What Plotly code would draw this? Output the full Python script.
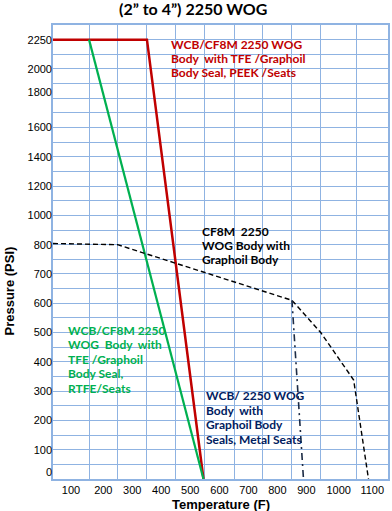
import numpy as np
import plotly.graph_objects as go

# ---------------- data ----------------
TITLE = "(2” to 4”) 2250 WOG"
X_TICK_LABELS = [100, 200, 300, 400, 500, 600, 700, 800, 900, 1000, 1100]
Y_TICK_LABELS = [0, 100, 200, 300, 400, 500, 600, 700, 800, 1000, 1200, 1400, 1600, 1800, 2000, 2250]

# PEEK seats (red)
peek_temp = [50, 350, 545]
peek_psi = [2250, 2250, 0]
# RTFE seats (green)
rtfe_temp = [150, 545]
rtfe_psi = [2250, 0]
# CF8M graphoil body (black dashed)
cf8m_temp = [50, 250, 850, 950, 1042, 1088]
cf8m_psi = [808, 800, 610, 500, 338, 0]
# WCB metal seats (dash-dot)
wcb_temp = [850, 890]
wcb_psi = [610, 0]

# ------------- custom (non-linear) axis scales of the original chart -------------
X_SCALE_T = [50, 150, 250, 350, 450, 550, 650, 750, 850, 950, 1050, 1150]
X_SCALE_U = [0, 36.3, 65, 94.6, 123.3, 153, 182.3, 211.3, 240.6, 269.6, 305.6, 337.3]
Y_SCALE_P = [0, 800, 1600, 1800, 2000, 2250]
Y_SCALE_U = [0, 16, 24, 26.44, 28, 30]


def xs(t):
    return list(np.interp(t, X_SCALE_T, X_SCALE_U))


def ys(p):
    return list(np.interp(p, Y_SCALE_P, Y_SCALE_U))


GRID = "#8fb3e2"
W, H = 392, 511
ML, MR, MT, MB = 53, 2, 25, 32
Y_MAX = 31

fig = go.Figure()

series = [
    (peek_temp, peek_psi, "#c00000", 2.5, "solid"),
    (rtfe_temp, rtfe_psi, "#00b050", 2.2, "solid"),
    (cf8m_temp, cf8m_psi, "#000000", 1.4, "5px,3px"),
    (wcb_temp, wcb_psi, "#1c2b45", 1.6, "7px,4px,2px,4px"),
]
for t, p, c, w, d in series:
    fig.add_trace(go.Scatter(x=xs(t), y=ys(p), mode="lines",
                             line=dict(color=c, width=w, dash=d),
                             showlegend=False, hoverinfo="skip"))

# dummy trace to carry the label axis
fig.add_trace(go.Scatter(x=[0], y=[0], yaxis="y2", mode="markers",
                         marker=dict(opacity=0), showlegend=False, hoverinfo="skip"))

y_label_pos = ys(Y_TICK_LABELS)
y_label_pos[0] += 0.5  # "0" label sits mid-cell in the original

tick_font = dict(family="Liberation Sans, Arial", size=11, color="#000000")

fig.update_layout(
    width=W, height=H,
    margin=dict(l=ML, r=MR, t=MT, b=MB),
    paper_bgcolor="white", plot_bgcolor="white",
    xaxis=dict(range=[X_SCALE_U[0], X_SCALE_U[-1]], tickmode="array",
               tickvals=xs(X_TICK_LABELS), ticktext=[str(v) for v in X_TICK_LABELS],
               showgrid=False, zeroline=False, ticks="",
               tickfont=tick_font,
               minor=dict(tickmode="array", tickvals=xs(X_SCALE_T), showgrid=True,
                          gridcolor=GRID, gridwidth=1.2, ticks=""),
               showline=True, mirror=True, linecolor=GRID, linewidth=1.5),
    yaxis=dict(range=[0, Y_MAX], tickmode="linear", tick0=0, dtick=1,
               showticklabels=False, showgrid=True, gridcolor=GRID, gridwidth=1.2,
               zeroline=False, ticks="",
               showline=True, mirror=True, linecolor=GRID, linewidth=1.5),
    yaxis2=dict(range=[0, Y_MAX], overlaying="y", side="left", tickmode="array",
                tickvals=y_label_pos, ticktext=[str(v) for v in Y_TICK_LABELS],
                showgrid=False, zeroline=False, ticks="", tickfont=tick_font,
                showline=False),
)

ann = []
# title
ann.append(dict(text=TITLE, xref="paper", yref="paper", x=0.418, y=1, yshift=17,
                xanchor="center", yanchor="middle", showarrow=False,
                font=dict(family="Lato", size=16, color="#000000", weight="bold")))
# axis titles
ann.append(dict(text="<b>Temperature (F)</b>", xref="paper", yref="paper", x=0.5, y=0,
                yshift=-25, xanchor="center", yanchor="middle", showarrow=False,
                font=dict(family="Liberation Sans, Arial", size=13, color="#000000")))
ann.append(dict(text="<b>Pressure (PSI)</b>", xref="paper", yref="y", x=0, y=12.8,
                xshift=-43, textangle=-90, xanchor="center", yanchor="middle",
                showarrow=False,
                font=dict(family="Liberation Sans, Arial", size=13, color="#000000")))

LABEL_FONT = "Lato"
blocks = [
    (["WCB/CF8M 2250 WOG", "Body  with TFE /Graphoil", "Body Seal, PEEK /Seats"],
     117, 29.68, 0.96, "#c00000"),
    (["CF8M  2250", "WOG Body with", "Graphoil Body"], 148, 16.87, 0.93, "#000000"),
    (["WCB/CF8M 2250", "WOG  Body  with", "TFE /Graphoil", "Body Seal,", "RTFE/Seats"],
     13, 10.17, 0.99, "#00b050"),
    (["WCB/ 2250 WOG", "Body  with", "Graphoil Body", "Seals, Metal Seats"],
     152, 5.69, 0.99, "#002060"),
]
for lines, x0, y0, dy, col in blocks:
    for i, ln in enumerate(lines):
        ann.append(dict(text=ln.replace("  ", "&nbsp; "), x=x0, y=y0 - i * dy, xref="x", yref="y",
                        xanchor="left", yanchor="middle", showarrow=False,
                        font=dict(family=LABEL_FONT, size=12, color=col, weight="bold")))

fig.update_layout(annotations=ann)
fig.write_html("out.html", config={"displayModeBar": False},
               post_script="document.body.style.margin='0';document.body.style.overflow='hidden';")
